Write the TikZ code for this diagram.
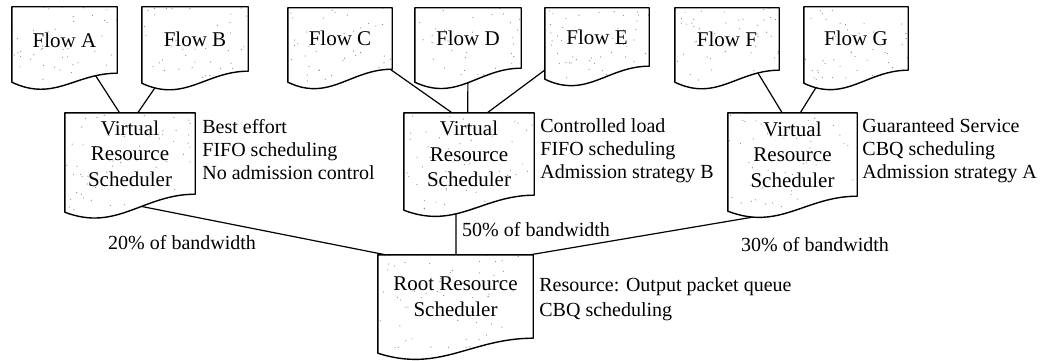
\documentclass[tikz,border=0pt]{standalone}
\usepackage{fontspec}
\setmainfont{Liberation Serif}
\usetikzlibrary{calc}

\pgfdeclarelayer{edges}
\pgfdeclarelayer{paper}
\pgfsetlayers{edges,paper,main}

% Outline of a "document" box: rectangle part is the node, the left corner
% of the wavy bottom hangs #2 below the node's south edge.
\newcommand\docpath[2]{%
  (#1.north west) -- (#1.north east) -- (#1.south east)
  .. controls ($(#1.south west)!0.6!(#1.south east)$)
          and ($(#1.south west)!0.4!(#1.south east)+(0,#2+20)$)
  .. ($(#1.south west)+(0,#2)$) -- cycle}

% \docnode{name}{cx}{cy}{width}{height}{drop}{text}{specks}
\newcommand\docnode[8]{%
  \node[docbox, minimum width=#4pt, minimum height=#5pt] (#1) at (#2,#3) {#7};
  \begin{pgfonlayer}{paper}
    \fill[white] \docpath{#1}{#6};
    \begin{scope}
      \clip \docpath{#1}{#6};
      \foreach \k in {1,...,#8}{%
        \pgfmathsetmacro\dx{rnd*#4}%
        \pgfmathsetmacro\dy{rnd*(#5+#6)}%
        \fill[speck] ($(#1.north west)+(\dx,\dy)$) circle (0.6pt);}
    \end{scope}
  \end{pgfonlayer}
  \draw[docline] \docpath{#1}{#6};
}

\begin{document}
\begin{tikzpicture}[x=1pt,y=-1pt,
  docbox/.style={inner sep=0pt, align=center,
    font=\fontsize{21}{25.5}\selectfont},
  docline/.style={line width=1.4pt, line join=round},
  speck/.style={fill=black!45},
  link/.style={line width=1.2pt},
  note/.style={inner sep=0pt, align=left, anchor=north west,
    font=\fontsize{20}{23}\selectfont},
  share/.style={inner sep=0pt, anchor=west,
    font=\fontsize{20}{23}\selectfont}]
\useasboundingbox (0,0) rectangle (1051,361);
\pgfmathsetseed{4242}

% flows
\docnode{fa}{64.5}{40}{105}{66}{9}{Flow A}{45}
\docnode{fb}{195}{39}{106}{64}{12}{Flow B}{45}
\docnode{fc}{340}{38.5}{104}{61}{13}{Flow C}{40}
\docnode{fd}{468}{38}{106}{60}{14}{Flow D}{40}
\docnode{fe}{597}{37}{104}{58}{13}{Flow E}{55}
\docnode{ff}{727}{39}{104}{62}{12}{Flow F}{45}
\docnode{fg}{856}{38.5}{104}{63}{13}{Flow G}{45}

% virtual schedulers and the root
\docnode{v1}{130}{153.5}{130}{81}{18}{Virtual\\Resource\\Scheduler}{60}
\docnode{v2}{469}{154}{130}{82}{15}{Virtual\\Resource\\Scheduler}{55}
\docnode{v3}{792.5}{154.5}{129}{83}{15}{Virtual\\Resource\\Scheduler}{55}
\docnode{root}{455.5}{296.5}{155}{83}{15}{Root Resource\\Scheduler}{60}

% annotations
\node[note] (n1) at ($(v1.north east)+(7,6)$) {Best effort\\FIFO scheduling\\No admission control};
\node[note] (n2) at ($(v2.north east)+(6,6)$) {Controlled load\\FIFO scheduling\\Admission strategy B};
\node[note] (n3) at ($(v3.north east)+(5,6)$) {Guaranteed Service\\CBQ scheduling\\Admission strategy A};
\node[note, font=\fontsize{20}{25}\selectfont] (nr) at ($(root.north east)+(6,23)$) {Resource: Output packet queue\\CBQ scheduling};

\node[share] (s1) at (108,243) {20\% of bandwidth};
\node[share] (s2) at (462,230) {50\% of bandwidth};
\node[share] (s3) at (741,245) {30\% of bandwidth};

% connectors
\begin{pgfonlayer}{edges}
\draw[link, shorten >=-8pt] ($(v1.north west)!0.42!(v1.north east)$) -- ($(fa.south west)!0.78!(fa.south east)$);
\draw[link, shorten >=-8pt] ($(v1.north west)!0.56!(v1.north east)$) -- ($(fb.south west)!0.23!(fb.south east)$);
\draw[link, shorten >=-8pt] ($(v2.north west)!0.37!(v2.north east)$) -- ($(fc.south west)!0.98!(fc.south east)$);
\draw[link, shorten >=-8pt] ($(v2.north west)!0.49!(v2.north east)$) -- ($(fd.south west)!0.5!(fd.south east)$);
\draw[link, shorten >=-8pt] ($(v2.north west)!0.64!(v2.north east)$) -- ($(fe.south west)!0.05!(fe.south east)$);
\draw[link, shorten >=-8pt] ($(v3.north west)!0.42!(v3.north east)$) -- ($(ff.south west)!0.78!(ff.south east)$);
\draw[link, shorten >=-8pt] ($(v3.north west)!0.56!(v3.north east)$) -- ($(fg.south west)!0.22!(fg.south east)$);
\draw[link] ($(v1.south west)!0.115!(v1.south east)$) -- ($(root.north west)!0.05!(root.north east)$);
\draw[link] ($(v2.south west)!0.4!(v2.south east)$) -- ($(root.north west)!0.503!(root.north east)$);
\draw[link] ($(v3.south west)!0.28!(v3.south east)+(0,19)$) -- ($(root.north west)!0.98!(root.north east)$);
\end{pgfonlayer}
\end{tikzpicture}
\end{document}
